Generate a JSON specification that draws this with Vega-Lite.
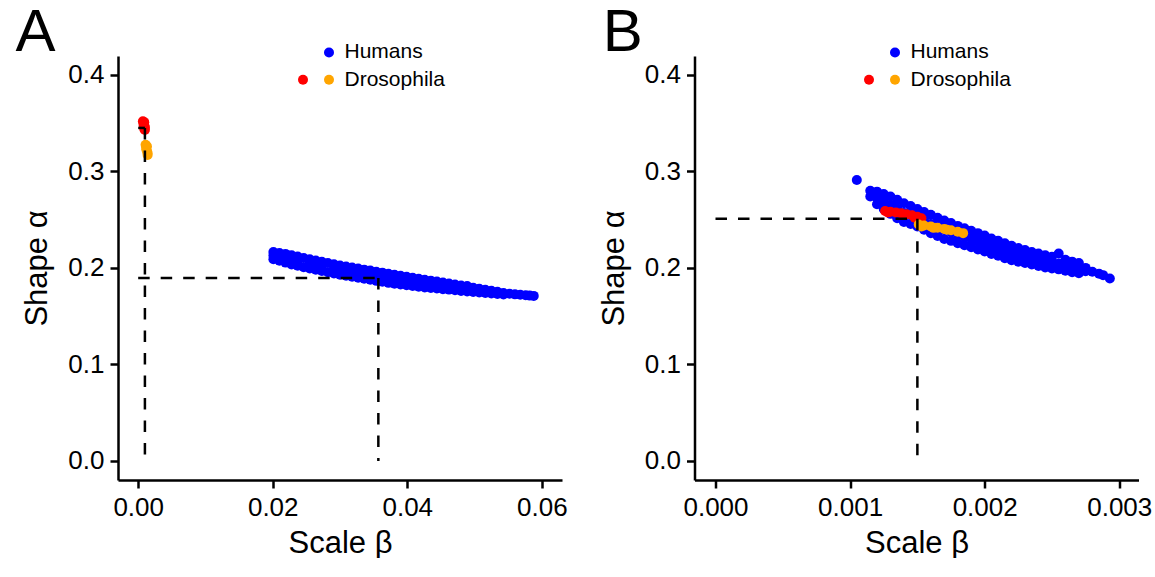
{
  "$schema": "https://vega.github.io/schema/vega-lite/v6.json",
  "padding": {"left": 15, "top": 2, "right": 0, "bottom": 0},
  "background": "white",
  "config": {
    "font": "Liberation Sans",
    "view": {"stroke": null},
    "axis": {"domainColor": "black", "domainWidth": 2.5, "tickColor": "black", "tickWidth": 2.5, "tickSize": 8, "labelFontSize": 26, "labelColor": "black", "labelPadding": 6, "titleFontSize": 31, "titleFontWeight": "normal", "titleColor": "black", "grid": false, "labelFont": "Liberation Sans", "titleFont": "Liberation Sans", "labelFlush": false, "labelOverlap": false},
    "legend": {"columnPadding": 0, "rowPadding": 5.6, "labelFontSize": 21, "labelColor": "black", "labelOffset": 5, "symbolSize": 100, "symbolType": "circle", "symbolStrokeWidth": 0, "padding": 0, "labelFont": "Liberation Sans"},
    "title": {"anchor": "start", "frame": "group", "fontSize": 60, "fontWeight": "normal", "font": "Liberation Sans", "color": "black", "baseline": "alphabetic", "offset": -22}
  },
  "datasets": {
    "ptsA": [
      {"beta": 0.0201, "alpha": 0.2165, "group": "Humans"},
      {"beta": 0.0201, "alpha": 0.2128, "group": "Humans"},
      {"beta": 0.0201, "alpha": 0.2090, "group": "Humans"},
      {"beta": 0.0210, "alpha": 0.2155, "group": "Humans"},
      {"beta": 0.0210, "alpha": 0.2075, "group": "Humans"},
      {"beta": 0.0219, "alpha": 0.2145, "group": "Humans"},
      {"beta": 0.0219, "alpha": 0.2100, "group": "Humans"},
      {"beta": 0.0219, "alpha": 0.2055, "group": "Humans"},
      {"beta": 0.0228, "alpha": 0.2130, "group": "Humans"},
      {"beta": 0.0228, "alpha": 0.2035, "group": "Humans"},
      {"beta": 0.0237, "alpha": 0.2117, "group": "Humans"},
      {"beta": 0.0237, "alpha": 0.2072, "group": "Humans"},
      {"beta": 0.0237, "alpha": 0.2022, "group": "Humans"},
      {"beta": 0.0246, "alpha": 0.2103, "group": "Humans"},
      {"beta": 0.0246, "alpha": 0.2008, "group": "Humans"},
      {"beta": 0.0255, "alpha": 0.2090, "group": "Humans"},
      {"beta": 0.0255, "alpha": 0.2045, "group": "Humans"},
      {"beta": 0.0255, "alpha": 0.1995, "group": "Humans"},
      {"beta": 0.0264, "alpha": 0.2077, "group": "Humans"},
      {"beta": 0.0264, "alpha": 0.1982, "group": "Humans"},
      {"beta": 0.0273, "alpha": 0.2063, "group": "Humans"},
      {"beta": 0.0273, "alpha": 0.2018, "group": "Humans"},
      {"beta": 0.0273, "alpha": 0.1968, "group": "Humans"},
      {"beta": 0.0282, "alpha": 0.2051, "group": "Humans"},
      {"beta": 0.0282, "alpha": 0.1956, "group": "Humans"},
      {"beta": 0.0291, "alpha": 0.2038, "group": "Humans"},
      {"beta": 0.0291, "alpha": 0.1993, "group": "Humans"},
      {"beta": 0.0291, "alpha": 0.1943, "group": "Humans"},
      {"beta": 0.0300, "alpha": 0.2025, "group": "Humans"},
      {"beta": 0.0300, "alpha": 0.1930, "group": "Humans"},
      {"beta": 0.0309, "alpha": 0.2014, "group": "Humans"},
      {"beta": 0.0309, "alpha": 0.1969, "group": "Humans"},
      {"beta": 0.0309, "alpha": 0.1919, "group": "Humans"},
      {"beta": 0.0318, "alpha": 0.2003, "group": "Humans"},
      {"beta": 0.0318, "alpha": 0.1908, "group": "Humans"},
      {"beta": 0.0327, "alpha": 0.1993, "group": "Humans"},
      {"beta": 0.0327, "alpha": 0.1948, "group": "Humans"},
      {"beta": 0.0327, "alpha": 0.1898, "group": "Humans"},
      {"beta": 0.0336, "alpha": 0.1982, "group": "Humans"},
      {"beta": 0.0336, "alpha": 0.1887, "group": "Humans"},
      {"beta": 0.0345, "alpha": 0.1972, "group": "Humans"},
      {"beta": 0.0345, "alpha": 0.1927, "group": "Humans"},
      {"beta": 0.0345, "alpha": 0.1877, "group": "Humans"},
      {"beta": 0.0354, "alpha": 0.1961, "group": "Humans"},
      {"beta": 0.0354, "alpha": 0.1866, "group": "Humans"},
      {"beta": 0.0363, "alpha": 0.1951, "group": "Humans"},
      {"beta": 0.0363, "alpha": 0.1906, "group": "Humans"},
      {"beta": 0.0363, "alpha": 0.1856, "group": "Humans"},
      {"beta": 0.0372, "alpha": 0.1940, "group": "Humans"},
      {"beta": 0.0372, "alpha": 0.1845, "group": "Humans"},
      {"beta": 0.0381, "alpha": 0.1928, "group": "Humans"},
      {"beta": 0.0381, "alpha": 0.1885, "group": "Humans"},
      {"beta": 0.0381, "alpha": 0.1837, "group": "Humans"},
      {"beta": 0.0390, "alpha": 0.1918, "group": "Humans"},
      {"beta": 0.0390, "alpha": 0.1828, "group": "Humans"},
      {"beta": 0.0399, "alpha": 0.1908, "group": "Humans"},
      {"beta": 0.0399, "alpha": 0.1866, "group": "Humans"},
      {"beta": 0.0399, "alpha": 0.1820, "group": "Humans"},
      {"beta": 0.0408, "alpha": 0.1898, "group": "Humans"},
      {"beta": 0.0408, "alpha": 0.1812, "group": "Humans"},
      {"beta": 0.0417, "alpha": 0.1888, "group": "Humans"},
      {"beta": 0.0417, "alpha": 0.1848, "group": "Humans"},
      {"beta": 0.0417, "alpha": 0.1805, "group": "Humans"},
      {"beta": 0.0426, "alpha": 0.1878, "group": "Humans"},
      {"beta": 0.0426, "alpha": 0.1798, "group": "Humans"},
      {"beta": 0.0435, "alpha": 0.1868, "group": "Humans"},
      {"beta": 0.0435, "alpha": 0.1830, "group": "Humans"},
      {"beta": 0.0435, "alpha": 0.1792, "group": "Humans"},
      {"beta": 0.0444, "alpha": 0.1858, "group": "Humans"},
      {"beta": 0.0444, "alpha": 0.1786, "group": "Humans"},
      {"beta": 0.0453, "alpha": 0.1848, "group": "Humans"},
      {"beta": 0.0453, "alpha": 0.1814, "group": "Humans"},
      {"beta": 0.0453, "alpha": 0.1780, "group": "Humans"},
      {"beta": 0.0462, "alpha": 0.1838, "group": "Humans"},
      {"beta": 0.0462, "alpha": 0.1775, "group": "Humans"},
      {"beta": 0.0471, "alpha": 0.1828, "group": "Humans"},
      {"beta": 0.0471, "alpha": 0.1797, "group": "Humans"},
      {"beta": 0.0471, "alpha": 0.1768, "group": "Humans"},
      {"beta": 0.0480, "alpha": 0.1818, "group": "Humans"},
      {"beta": 0.0480, "alpha": 0.1762, "group": "Humans"},
      {"beta": 0.0489, "alpha": 0.1812, "group": "Humans"},
      {"beta": 0.0489, "alpha": 0.1780, "group": "Humans"},
      {"beta": 0.0489, "alpha": 0.1755, "group": "Humans"},
      {"beta": 0.0498, "alpha": 0.1795, "group": "Humans"},
      {"beta": 0.0498, "alpha": 0.1750, "group": "Humans"},
      {"beta": 0.0507, "alpha": 0.1783, "group": "Humans"},
      {"beta": 0.0507, "alpha": 0.1745, "group": "Humans"},
      {"beta": 0.0516, "alpha": 0.1773, "group": "Humans"},
      {"beta": 0.0516, "alpha": 0.1740, "group": "Humans"},
      {"beta": 0.0525, "alpha": 0.1763, "group": "Humans"},
      {"beta": 0.0525, "alpha": 0.1735, "group": "Humans"},
      {"beta": 0.0534, "alpha": 0.1752, "group": "Humans"},
      {"beta": 0.0534, "alpha": 0.1730, "group": "Humans"},
      {"beta": 0.0543, "alpha": 0.1740, "group": "Humans"},
      {"beta": 0.0543, "alpha": 0.1725, "group": "Humans"},
      {"beta": 0.0552, "alpha": 0.1732, "group": "Humans"},
      {"beta": 0.0560, "alpha": 0.1726, "group": "Humans"},
      {"beta": 0.0568, "alpha": 0.1722, "group": "Humans"},
      {"beta": 0.0576, "alpha": 0.1716, "group": "Humans"},
      {"beta": 0.0582, "alpha": 0.1713, "group": "Humans"},
      {"beta": 0.0588, "alpha": 0.1710, "group": "Humans"},
      {"beta": 0.0007, "alpha": 0.3520, "group": "Dros1"},
      {"beta": 0.0009, "alpha": 0.3510, "group": "Dros1"},
      {"beta": 0.0008, "alpha": 0.3480, "group": "Dros1"},
      {"beta": 0.0008, "alpha": 0.3500, "group": "Dros1"},
      {"beta": 0.0010, "alpha": 0.3460, "group": "Dros1"},
      {"beta": 0.0009, "alpha": 0.3440, "group": "Dros1"},
      {"beta": 0.0010, "alpha": 0.3430, "group": "Dros1"},
      {"beta": 0.0011, "alpha": 0.3275, "group": "Dros2"},
      {"beta": 0.0013, "alpha": 0.3260, "group": "Dros2"},
      {"beta": 0.0012, "alpha": 0.3250, "group": "Dros2"},
      {"beta": 0.0012, "alpha": 0.3230, "group": "Dros2"},
      {"beta": 0.0013, "alpha": 0.3210, "group": "Dros2"},
      {"beta": 0.0014, "alpha": 0.3190, "group": "Dros2"},
      {"beta": 0.0014, "alpha": 0.3170, "group": "Dros2"}
    ],
    "segA": [
      {"beta": 0.0, "alpha": 0.1896, "beta2": 0.0357, "alpha2": 0.1896},
      {"beta": 0.0357, "alpha": 0.1896, "beta2": 0.0357, "alpha2": 0.0},
      {"beta": 0.0, "alpha": 0.345, "beta2": 0.001, "alpha2": 0.345},
      {"beta": 0.001, "alpha": 0.345, "beta2": 0.001, "alpha2": 0.0}
    ],
    "ptsB": [
      {"beta": 0.00105, "alpha": 0.2910, "group": "Humans"},
      {"beta": 0.00115, "alpha": 0.2800, "group": "Humans"},
      {"beta": 0.00115, "alpha": 0.2740, "group": "Humans"},
      {"beta": 0.00120, "alpha": 0.2790, "group": "Humans"},
      {"beta": 0.00120, "alpha": 0.2725, "group": "Humans"},
      {"beta": 0.00120, "alpha": 0.2660, "group": "Humans"},
      {"beta": 0.00125, "alpha": 0.2765, "group": "Humans"},
      {"beta": 0.00125, "alpha": 0.2690, "group": "Humans"},
      {"beta": 0.00125, "alpha": 0.2610, "group": "Humans"},
      {"beta": 0.00130, "alpha": 0.2740, "group": "Humans"},
      {"beta": 0.00130, "alpha": 0.2650, "group": "Humans"},
      {"beta": 0.00130, "alpha": 0.2560, "group": "Humans"},
      {"beta": 0.00135, "alpha": 0.2705, "group": "Humans"},
      {"beta": 0.00135, "alpha": 0.2615, "group": "Humans"},
      {"beta": 0.00135, "alpha": 0.2515, "group": "Humans"},
      {"beta": 0.00140, "alpha": 0.2670, "group": "Humans"},
      {"beta": 0.00140, "alpha": 0.2570, "group": "Humans"},
      {"beta": 0.00140, "alpha": 0.2475, "group": "Humans"},
      {"beta": 0.00145, "alpha": 0.2640, "group": "Humans"},
      {"beta": 0.00145, "alpha": 0.2545, "group": "Humans"},
      {"beta": 0.00145, "alpha": 0.2455, "group": "Humans"},
      {"beta": 0.00150, "alpha": 0.2610, "group": "Humans"},
      {"beta": 0.00150, "alpha": 0.2520, "group": "Humans"},
      {"beta": 0.00150, "alpha": 0.2430, "group": "Humans"},
      {"beta": 0.00155, "alpha": 0.2580, "group": "Humans"},
      {"beta": 0.00155, "alpha": 0.2490, "group": "Humans"},
      {"beta": 0.00155, "alpha": 0.2395, "group": "Humans"},
      {"beta": 0.00160, "alpha": 0.2550, "group": "Humans"},
      {"beta": 0.00160, "alpha": 0.2455, "group": "Humans"},
      {"beta": 0.00160, "alpha": 0.2360, "group": "Humans"},
      {"beta": 0.00165, "alpha": 0.2520, "group": "Humans"},
      {"beta": 0.00165, "alpha": 0.2425, "group": "Humans"},
      {"beta": 0.00165, "alpha": 0.2330, "group": "Humans"},
      {"beta": 0.00170, "alpha": 0.2490, "group": "Humans"},
      {"beta": 0.00170, "alpha": 0.2395, "group": "Humans"},
      {"beta": 0.00170, "alpha": 0.2300, "group": "Humans"},
      {"beta": 0.00175, "alpha": 0.2465, "group": "Humans"},
      {"beta": 0.00175, "alpha": 0.2370, "group": "Humans"},
      {"beta": 0.00175, "alpha": 0.2280, "group": "Humans"},
      {"beta": 0.00180, "alpha": 0.2435, "group": "Humans"},
      {"beta": 0.00180, "alpha": 0.2345, "group": "Humans"},
      {"beta": 0.00180, "alpha": 0.2255, "group": "Humans"},
      {"beta": 0.00185, "alpha": 0.2410, "group": "Humans"},
      {"beta": 0.00185, "alpha": 0.2320, "group": "Humans"},
      {"beta": 0.00185, "alpha": 0.2235, "group": "Humans"},
      {"beta": 0.00190, "alpha": 0.2385, "group": "Humans"},
      {"beta": 0.00190, "alpha": 0.2300, "group": "Humans"},
      {"beta": 0.00190, "alpha": 0.2215, "group": "Humans"},
      {"beta": 0.00195, "alpha": 0.2360, "group": "Humans"},
      {"beta": 0.00195, "alpha": 0.2275, "group": "Humans"},
      {"beta": 0.00195, "alpha": 0.2190, "group": "Humans"},
      {"beta": 0.00200, "alpha": 0.2335, "group": "Humans"},
      {"beta": 0.00200, "alpha": 0.2250, "group": "Humans"},
      {"beta": 0.00200, "alpha": 0.2170, "group": "Humans"},
      {"beta": 0.00205, "alpha": 0.2305, "group": "Humans"},
      {"beta": 0.00205, "alpha": 0.2225, "group": "Humans"},
      {"beta": 0.00205, "alpha": 0.2145, "group": "Humans"},
      {"beta": 0.00210, "alpha": 0.2280, "group": "Humans"},
      {"beta": 0.00210, "alpha": 0.2200, "group": "Humans"},
      {"beta": 0.00210, "alpha": 0.2125, "group": "Humans"},
      {"beta": 0.00215, "alpha": 0.2255, "group": "Humans"},
      {"beta": 0.00215, "alpha": 0.2178, "group": "Humans"},
      {"beta": 0.00215, "alpha": 0.2100, "group": "Humans"},
      {"beta": 0.00220, "alpha": 0.2230, "group": "Humans"},
      {"beta": 0.00220, "alpha": 0.2155, "group": "Humans"},
      {"beta": 0.00220, "alpha": 0.2080, "group": "Humans"},
      {"beta": 0.00225, "alpha": 0.2205, "group": "Humans"},
      {"beta": 0.00225, "alpha": 0.2135, "group": "Humans"},
      {"beta": 0.00225, "alpha": 0.2065, "group": "Humans"},
      {"beta": 0.00230, "alpha": 0.2185, "group": "Humans"},
      {"beta": 0.00230, "alpha": 0.2115, "group": "Humans"},
      {"beta": 0.00230, "alpha": 0.2050, "group": "Humans"},
      {"beta": 0.00235, "alpha": 0.2165, "group": "Humans"},
      {"beta": 0.00235, "alpha": 0.2100, "group": "Humans"},
      {"beta": 0.00235, "alpha": 0.2035, "group": "Humans"},
      {"beta": 0.00240, "alpha": 0.2150, "group": "Humans"},
      {"beta": 0.00240, "alpha": 0.2085, "group": "Humans"},
      {"beta": 0.00240, "alpha": 0.2020, "group": "Humans"},
      {"beta": 0.00245, "alpha": 0.2130, "group": "Humans"},
      {"beta": 0.00245, "alpha": 0.2070, "group": "Humans"},
      {"beta": 0.00245, "alpha": 0.2005, "group": "Humans"},
      {"beta": 0.00250, "alpha": 0.2115, "group": "Humans"},
      {"beta": 0.00250, "alpha": 0.2055, "group": "Humans"},
      {"beta": 0.00250, "alpha": 0.1995, "group": "Humans"},
      {"beta": 0.00255, "alpha": 0.2150, "group": "Humans"},
      {"beta": 0.00255, "alpha": 0.2045, "group": "Humans"},
      {"beta": 0.00255, "alpha": 0.1985, "group": "Humans"},
      {"beta": 0.00260, "alpha": 0.2085, "group": "Humans"},
      {"beta": 0.00260, "alpha": 0.2025, "group": "Humans"},
      {"beta": 0.00260, "alpha": 0.1970, "group": "Humans"},
      {"beta": 0.00265, "alpha": 0.2065, "group": "Humans"},
      {"beta": 0.00265, "alpha": 0.2005, "group": "Humans"},
      {"beta": 0.00265, "alpha": 0.1955, "group": "Humans"},
      {"beta": 0.00270, "alpha": 0.2050, "group": "Humans"},
      {"beta": 0.00270, "alpha": 0.1990, "group": "Humans"},
      {"beta": 0.00270, "alpha": 0.1945, "group": "Humans"},
      {"beta": 0.00275, "alpha": 0.2000, "group": "Humans"},
      {"beta": 0.00275, "alpha": 0.1965, "group": "Humans"},
      {"beta": 0.00280, "alpha": 0.1960, "group": "Humans"},
      {"beta": 0.00285, "alpha": 0.1940, "group": "Humans"},
      {"beta": 0.00288, "alpha": 0.1925, "group": "Humans"},
      {"beta": 0.00293, "alpha": 0.1890, "group": "Humans"},
      {"beta": 0.00126, "alpha": 0.2590, "group": "Dros1"},
      {"beta": 0.00128, "alpha": 0.2575, "group": "Dros1"},
      {"beta": 0.00130, "alpha": 0.2582, "group": "Dros1"},
      {"beta": 0.00134, "alpha": 0.2575, "group": "Dros1"},
      {"beta": 0.00138, "alpha": 0.2565, "group": "Dros1"},
      {"beta": 0.00140, "alpha": 0.2550, "group": "Dros1"},
      {"beta": 0.00142, "alpha": 0.2555, "group": "Dros1"},
      {"beta": 0.00146, "alpha": 0.2545, "group": "Dros1"},
      {"beta": 0.00148, "alpha": 0.2520, "group": "Dros1"},
      {"beta": 0.00150, "alpha": 0.2530, "group": "Dros1"},
      {"beta": 0.00153, "alpha": 0.2515, "group": "Dros1"},
      {"beta": 0.00151, "alpha": 0.2450, "group": "Dros2"},
      {"beta": 0.00153, "alpha": 0.2430, "group": "Dros2"},
      {"beta": 0.00155, "alpha": 0.2440, "group": "Dros2"},
      {"beta": 0.00160, "alpha": 0.2428, "group": "Dros2"},
      {"beta": 0.00162, "alpha": 0.2415, "group": "Dros2"},
      {"beta": 0.00165, "alpha": 0.2416, "group": "Dros2"},
      {"beta": 0.00170, "alpha": 0.2404, "group": "Dros2"},
      {"beta": 0.00172, "alpha": 0.2395, "group": "Dros2"},
      {"beta": 0.00175, "alpha": 0.2390, "group": "Dros2"},
      {"beta": 0.00180, "alpha": 0.2375, "group": "Dros2"},
      {"beta": 0.00184, "alpha": 0.2360, "group": "Dros2"}
    ],
    "segB": [
      {"beta": 0.0, "alpha": 0.251, "beta2": 0.0015, "alpha2": 0.251},
      {"beta": 0.0015, "alpha": 0.251, "beta2": 0.0015, "alpha2": 0.0}
    ]
  },
  "hconcat": [
    {
      "width": 444,
      "height": 424,
      "title": {"text": "A", "dx": -102.5},
      "layer": [
        {
          "data": {"name": "ptsA"},
          "mark": {"type": "point", "filled": true, "size": 100, "opacity": 1},
          "encoding": {
            "x": {"field": "beta", "type": "quantitative", "title": "Scale β", "scale": {"domain": [-0.003, 0.063], "nice": false, "zero": false}, "axis": {"values": [0, 0.02, 0.04, 0.06], "format": ".2f", "labelFontSize": 26, "titleFontSize": 31, "titlePadding": 8}},
            "y": {"field": "alpha", "type": "quantitative", "title": "Shape α", "scale": {"domain": [-0.0197, 0.4195], "nice": false, "zero": false}, "axis": {"values": [0, 0.1, 0.2, 0.3, 0.4], "format": ".1f", "labelFontSize": 26, "titleFontSize": 31, "titlePadding": 14}},
            "color": {"field": "group", "type": "nominal", "scale": {"domain": ["blank", "Humans", "Dros1", "Dros2"], "range": ["rgba(0,0,0,0)", "#0000ff", "#ff0000", "#ffa500"]}, "legend": {"orient": "none", "direction": "horizontal", "title": null, "columns": 2, "legendX": 174.5, "legendY": -14.3, "labelExpr": "datum.label == 'Humans' ? 'Humans' : (datum.label == 'Dros2' ? 'Drosophila' : '')"}}
          }
        },
        {
          "data": {"name": "segA"},
          "mark": {"type": "rule", "strokeDash": [11.5, 11], "strokeWidth": 2.5, "color": "black"},
          "encoding": {
            "x": {"field": "beta", "type": "quantitative", "title": "Scale β"},
            "y": {"field": "alpha", "type": "quantitative", "title": "Shape α"},
            "x2": {"field": "beta2"},
            "y2": {"field": "alpha2"}
          }
        }
      ]
    },
    {
      "width": 444,
      "height": 424,
      "title": {"text": "B", "dx": -91.7},
      "layer": [
        {
          "data": {"name": "ptsB"},
          "mark": {"type": "point", "filled": true, "size": 100, "opacity": 1},
          "encoding": {
            "x": {"field": "beta", "type": "quantitative", "title": "Scale β", "scale": {"domain": [-0.000156, 0.003143], "nice": false, "zero": false}, "axis": {"values": [0, 0.001, 0.002, 0.003], "format": ".3f", "labelFontSize": 26, "titleFontSize": 31, "titlePadding": 8}},
            "y": {"field": "alpha", "type": "quantitative", "title": "Shape α", "scale": {"domain": [-0.0197, 0.4195], "nice": false, "zero": false}, "axis": {"values": [0, 0.1, 0.2, 0.3, 0.4], "format": ".1f", "labelFontSize": 26, "titleFontSize": 31, "titlePadding": 14}},
            "color": {"field": "group", "type": "nominal", "scale": {"domain": ["blank", "Humans", "Dros1", "Dros2"], "range": ["rgba(0,0,0,0)", "#0000ff", "#ff0000", "#ffa500"]}, "legend": {"orient": "none", "direction": "horizontal", "title": null, "columns": 2, "legendX": 164, "legendY": -14.3, "labelExpr": "datum.label == 'Humans' ? 'Humans' : (datum.label == 'Dros2' ? 'Drosophila' : '')"}}
          }
        },
        {
          "data": {"name": "segB"},
          "mark": {"type": "rule", "strokeDash": [11.5, 11], "strokeWidth": 2.5, "color": "black"},
          "encoding": {
            "x": {"field": "beta", "type": "quantitative", "title": "Scale β"},
            "y": {"field": "alpha", "type": "quantitative", "title": "Shape α"},
            "x2": {"field": "beta2"},
            "y2": {"field": "alpha2"}
          }
        }
      ]
    }
  ],
  "spacing": 132.5,
  "bounds": "flush",
  "resolve": {"scale": {"color": "shared", "x": "independent", "y": "independent"}, "legend": {"color": "independent"}}
}
